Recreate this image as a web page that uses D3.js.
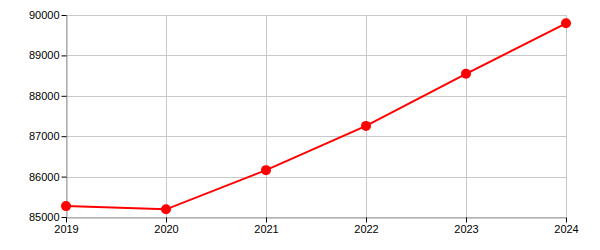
<!DOCTYPE html>
<html><head><meta charset="utf-8">
<script src="https://d3js.org/d3.v7.min.js"></script>
<style>body{margin:0;background:#fff}svg{display:block}text{font-family:"Liberation Sans",Arial,sans-serif;font-size:11px;fill:#000}</style>
</head><body><svg id="c" width="600" height="250"></svg>
<script>
const years = [2019, 2020, 2021, 2022, 2023, 2024];
const values = [85270, 85190, 86160, 87255, 88545, 89795];
const yTicks = [85000, 86000, 87000, 88000, 89000, 90000];

const m = {l: 66, r: 34, t: 15, b: 33};
const W = 600, H = 250;
const svg = d3.select("#c");
const x = d3.scaleLinear().domain([2019, 2024]).range([m.l, W - m.r]);
const y = d3.scaleLinear().domain([85000, 90000]).range([H - m.b, m.t]);

// grid
svg.append("g").selectAll("line").data(yTicks).join("line")
  .attr("x1", m.l).attr("x2", W - m.r)
  .attr("y1", d => Math.round(y(d)) + 0.5).attr("y2", d => Math.round(y(d)) + 0.5)
  .attr("stroke", "#c8c8c8");
svg.append("g").selectAll("line").data(years).join("line")
  .attr("y1", m.t).attr("y2", H - m.b)
  .attr("x1", d => Math.round(x(d)) + 0.5).attr("x2", d => Math.round(x(d)) + 0.5)
  .attr("stroke", "#c8c8c8");

const ya = svg.append("g").attr("transform", `translate(${m.l + 0.5},0)`)
  .call(d3.axisLeft(y).tickValues(yTicks).tickFormat(d3.format("d")).tickSize(5).tickPadding(2).tickSizeOuter(0));
const xa = svg.append("g").attr("transform", `translate(0,${H - m.b + 0.5})`)
  .call(d3.axisBottom(x).tickValues(years).tickFormat(d3.format("d")).tickSize(5).tickPadding(3).tickSizeOuter(0));
[ya, xa].forEach(g => {
  g.select(".domain").attr("stroke", "#999");
  g.selectAll(".tick line").attr("stroke", "#000");
  g.selectAll("text").attr("font-family", '"Liberation Sans",Arial,sans-serif').attr("font-size", 11).attr("fill", "#000");
});

const data = years.map((yr, i) => ({yr, v: values[i]}));
svg.append("path").datum(data)
  .attr("fill", "none").attr("stroke", "#ff0000").attr("stroke-width", 2)
  .attr("d", d3.line().x(d => x(d.yr)).y(d => y(d.v)));
svg.append("g").selectAll("circle").data(data).join("circle")
  .attr("cx", d => x(d.yr)).attr("cy", d => y(d.v)).attr("r", 5)
  .attr("fill", "#ff0000");
</script></body></html>
